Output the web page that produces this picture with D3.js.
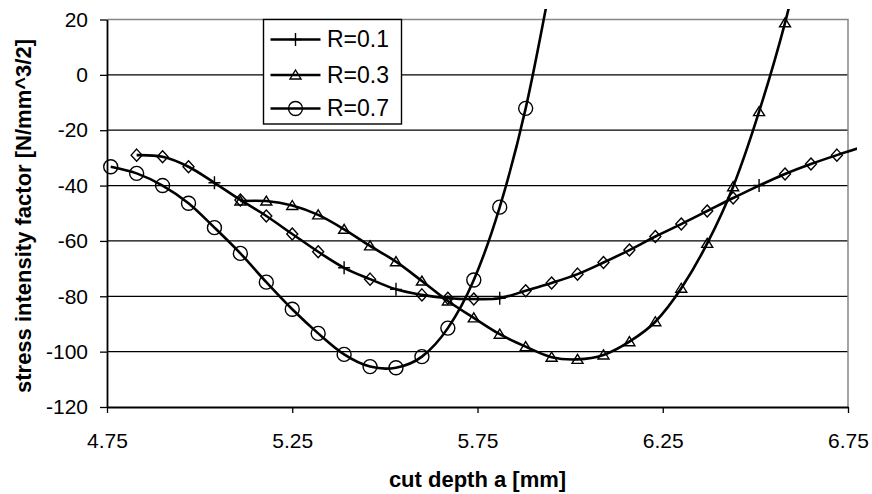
<!DOCTYPE html>
<html>
<head>
<meta charset="utf-8">
<script src="https://cdn.jsdelivr.net/npm/d3@7"></script>
<style>
  body { margin: 0; background: #fff; }
  text { font-family: "Liberation Sans", Arial, sans-serif; }
</style>
</head>
<body>
<div id="chart"></div>
<script>
// values, cut depth a [mm] vs stress intensity factor
const xTicks = [4.75, 5.25, 5.75, 6.25, 6.75];
const yTicks = [20, 0, -20, -40, -60, -80, -100, -120];

// R=0.1 (plus markers)
const r01X = [5.04, 5.39, 5.53, 5.81, 6.51, 6.79];
const r01Y = [-39, -69.7, -77.5, -80.7, -40, -26];

// same curve, diamond markers (no legend entry)
const diaX = [4.83, 4.90, 4.97, 5.11, 5.18, 5.25, 5.32, 5.46, 5.60, 5.67, 5.74, 5.88, 5.95,
              6.02, 6.09, 6.16, 6.23, 6.30, 6.37, 6.44, 6.58, 6.65, 6.72];
const diaY = [-29, -29.6, -33.2, -45.2, -51, -57.5, -63.9, -73.8, -79.5, -80.7, -81, -78, -75.2,
              -72, -67.8, -63.3, -58.4, -53.9, -49.2, -44.5, -35.8, -32.2, -29];

// R=0.3 (triangles)
const r03X = [5.11, 5.18, 5.25, 5.32, 5.39, 5.46, 5.53, 5.60, 5.67, 5.74, 5.81, 5.88, 5.95,
              6.02, 6.09, 6.16, 6.23, 6.30, 6.37, 6.44, 6.51, 6.58, 6.65];
const r03Y = [-45.6, -45.6, -47.2, -50.6, -55.8, -61.8, -67.5, -74.5, -81.7, -87.8, -93.7, -98.2, -102,
              -102.8, -101.2, -96.4, -89.2, -77.1, -60.9, -40.4, -13.3, 18.8, 58];

// R=0.7 (circles)
const r07X = [4.76, 4.83, 4.90, 4.97, 5.04, 5.11, 5.18, 5.25, 5.32, 5.39, 5.46, 5.53, 5.60,
              5.67, 5.74, 5.81, 5.88, 5.95];
const r07Y = [-33.2, -35.6, -40.0, -46.4, -55.2, -64.5, -74.9, -84.7, -93.4, -101, -105.4, -105.8, -101.8,
              -91.5, -74.1, -47.8, -12.1, 35];

const legendNames = ["R=0.1", "R=0.3", "R=0.7"];
const legendMarks = ["plus", "triangle", "circle"];

const width = 872;
const height = 494;
const plotLeft = 107, plotRight = 848, plotTop = 19.5, plotBottom = 407;

const x = d3.scaleLinear().domain([4.75, 6.75]).range([plotLeft, plotRight]);
const y = d3.scaleLinear().domain([-120, 20]).range([plotBottom, plotTop]);

const svg = d3.select('#chart')
    .append('svg')
    .attr('width', width)
    .attr('height', height);

// lines may run a little beyond the plot, as in the original
svg.append('clipPath').attr('id', 'clip')
    .append('rect')
    .attr('x', 100).attr('y', 9)
    .attr('width', 757).attr('height', 402);

// gridlines
svg.append('g')
    .selectAll('line')
    .data(yTicks.filter(v => v < 20 && v > -120))
    .enter()
    .append('line')
    .attr('x1', plotLeft).attr('x2', plotRight)
    .attr('y1', d => y(d)).attr('y2', d => y(d))
    .attr('stroke', '#000')
    .attr('stroke-width', 1.3);

// top and right border in grey
svg.append('path')
    .attr('d', `M${plotLeft},${y(20)}H${plotRight}V${plotBottom}`)
    .attr('fill', 'none')
    .attr('stroke', '#868686')
    .attr('stroke-width', 1.5);

// axes (plain hyphen for negatives, like the original)
const yAxis = svg.append('g')
    .attr('transform', `translate(${plotLeft},0)`)
    .call(d3.axisLeft(y).tickValues(yTicks).tickFormat(d => String(d))
        .tickSize(7).tickPadding(12).tickSizeOuter(0));

const xAxis = svg.append('g')
    .attr('transform', `translate(0,${plotBottom})`)
    .call(d3.axisBottom(x).tickValues(xTicks).tickFormat(d => d.toFixed(2))
        .tickSize(6).tickPadding(20).tickSizeOuter(0));

[yAxis, xAxis].forEach(a => {
    a.select('.domain').attr('stroke', '#000').attr('stroke-width', 1.8);
    a.selectAll('.tick line').attr('stroke', '#000').attr('stroke-width', 1.3);
    a.selectAll('.tick text')
        .attr('fill', '#000')
        .style('font-size', '21px')
        .style('font-family', '"Liberation Sans", Arial, sans-serif');
});

// axis titles
svg.append('text')
    .attr('x', (plotLeft + plotRight) / 2)
    .attr('y', 487)
    .attr('text-anchor', 'middle')
    .style('font-size', '22px')
    .style('font-weight', 'bold')
    .text('cut depth a [mm]');

svg.append('text')
    .attr('transform', 'translate(31,216) rotate(-90)')
    .attr('text-anchor', 'middle')
    .style('font-size', '22px')
    .style('font-weight', 'bold')
    .text('stress intensity factor [N/mm^3/2]');

// marker shapes
function markerPath(type) {
    if (type === 'circle') return d3.symbol().type(d3.symbolCircle).size(Math.PI * 7 * 7)();
    if (type === 'triangle') return 'M0,-5L5.5,4L-5.5,4Z';
    if (type === 'diamond') return 'M0,-6L5.5,0L0,6L-5.5,0Z';
    if (type === 'plus') return 'M0,-6.5V6.5M-6,0H6';
}

const line = d3.line()
    .x(d => x(d[0]))
    .y(d => y(d[1]))
    .curve(d3.curveCatmullRom.alpha(0));

const zip = (xs, ys) => xs.map((v, i) => [v, ys[i]]);

// R=0.1 curve goes through both the plus and the diamond points
const r01Line = zip(r01X, r01Y).concat(zip(diaX, diaY)).sort((a, b) => a[0] - b[0]);

const series = [
    { pts: r01Line, marks: [{ pts: zip(diaX, diaY), type: 'diamond' }, { pts: zip(r01X, r01Y), type: 'plus' }] },
    { pts: zip(r03X, r03Y), marks: [{ pts: zip(r03X, r03Y), type: 'triangle' }] },
    { pts: zip(r07X, r07Y), marks: [{ pts: zip(r07X, r07Y), type: 'circle' }] }
];

const plot = svg.append('g');

series.forEach(s => {
    plot.append('path')
        .attr('d', line(s.pts))
        .attr('clip-path', 'url(#clip)')
        .attr('fill', 'none')
        .attr('stroke', '#000')
        .attr('stroke-width', 2.6);
});

series.forEach(s => {
    s.marks.forEach(m => {
        plot.append('g')
            .selectAll('path')
            .data(m.pts.filter(d => d[0] <= 6.75 && d[1] <= 20))
            .enter()
            .append('path')
            .attr('transform', d => `translate(${x(d[0])},${y(d[1])})`)
            .attr('d', markerPath(m.type))
            .attr('fill', 'none')
            .attr('stroke', '#000')
            .attr('stroke-width', 1.4);
    });
});

// legend
const legend = svg.append('g');
legend.append('rect')
    .attr('x', 263.5).attr('y', 19.5)
    .attr('width', 138).attr('height', 104.5)
    .attr('fill', '#fff')
    .attr('stroke', '#000')
    .attr('stroke-width', 1.4);

const rowY = [39.5, 75, 108.5];
legendNames.forEach((name, i) => {
    const g = legend.append('g').attr('transform', `translate(0,${rowY[i]})`);
    g.append('line')
        .attr('x1', 270.5).attr('x2', 320.5)
        .attr('stroke', '#000').attr('stroke-width', 2.6);
    g.append('path')
        .attr('transform', 'translate(295.5,0)')
        .attr('d', markerPath(legendMarks[i]))
        .attr('fill', 'none')
        .attr('stroke', '#000')
        .attr('stroke-width', 1.4);
    g.append('text')
        .attr('x', 327)
        .attr('y', 7.5)
        .style('font-size', '23px')
        .text(name);
});
</script>
</body>
</html>
